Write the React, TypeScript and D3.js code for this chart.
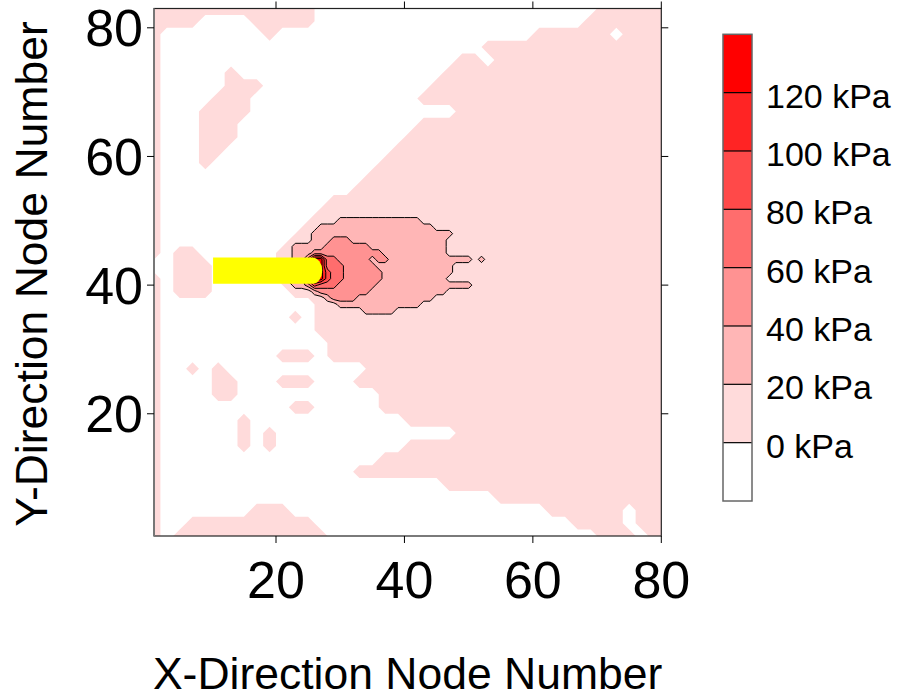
import React from 'react';
import * as d3 from 'd3';

const W = 902;
const H = 697;
const X_DOMAIN = [1, 80];
const Y_DOMAIN = [1, 83];
const X_TICKS = [20, 40, 60, 80];
const Y_TICKS = [20, 40, 60, 80];
const LEVELS = [0, 20, 40, 60, 80, 100, 120];
const LEVEL_COLORS = ['#ffffff', '#ffdbdb', '#ffb6b6', '#ff9292', '#ff6d6d', '#ff4949', '#ff2424', '#ff0000'];
const LEVEL_LABELS = LEVELS.map((v) => `${v} kPa`);
const X_TITLE = 'X-Direction Node Number';
const Y_TITLE = 'Y-Direction Node Number';

// level codes: '.' below 0, '1' 0-20, '2' 20-40, '3' 40-60, '4' 60-80, '5' 80-100, '6' 100-120, '7' above 120 (kPa)
const CODE_VALUES: Record<string, number> = { '.': -10, '1': 10, '2': 30, '3': 50, '4': 70, '5': 90, '6': 110, '7': 130 };

// whole field, nodes x = 1,3,...,81 ; rows y = 83,81,...,1
const FIELD_X0 = 1;
const FIELD_Y_TOP = 83;
const FIELD_STEP = 2;
const FIELD_ROWS = [
  '11111 11111 111.. ..... ..... ..... ..... 11111 1',
  '1111. ...11 111.. ..... ..... ..... ....1 11111 1',
  '1.... ....1 ..... ..... ..... ..... 11111 1.111 1',
  '1.... ..... ..... ..... ..... .1111 11111 11111 1',
  '1.... ..... ..... ..... ....1 1.111 11111 11111 1',
  '1.... .1... ..... ..... ...11 11111 11111 11111 1',
  '1.... .111. ..... ..... ..111 11111 11111 11111 1',
  '1.... 111.. ..... ..... .1111 11111 11111 11111 1',
  '1...1 111.. ..... ..... ....1 11111 11111 11111 1',
  '1...1 11... ..... ..... .1111 11111 11111 11111 1',
  '1...1 11... ..... ..... 11111 11111 11111 11111 1',
  '1...1 1.... ..... ....1 11111 11111 11111 11111 1',
  '1...1 ..... ..... ...11 11111 11111 11111 11111 1',
  '1.... ..... ..... ..111 11111 11111 11111 11111 1',
  '1.... ..... ..... .1111 11111 11111 11111 11111 1',
  '1.... ..... ....1 11111 11111 11111 11111 11111 1',
  '1.... ..... ...11 11111 11111 11111 11111 11111 1',
  '1.... ..... ..111 11111 11111 11111 11111 11111 1',
  '1.... ..... .1111 11111 11111 11111 11111 11111 1',
  '1.11. ..... 11111 11111 11111 11111 11111 11111 1',
  '..111 ..... 11111 11111 11111 11111 11111 11111 1',
  '1.111 ..... 11111 11111 11111 11111 11111 11111 1',
  '1.111 ..... .1111 11111 11111 11111 11111 11111 1',
  '1.... ..... ...11 11111 11111 11111 11111 11111 1',
  '1.... ..... .1.11 11111 11111 11111 11111 11111 1',
  '1.... ..... ...11 11111 11111 11111 11111 11111 1',
  '1.... ..... ....1 11111 11111 11111 11111 11111 1',
  '1.... ..... 111.1 11111 11111 11111 11111 11111 1',
  '1..1. 1.... ..... ..111 11111 11111 11111 11111 1',
  '1.... 11... 111.. .1111 11111 11111 11111 11111 1',
  '1.... 11... ..... ...11 11111 11111 11111 11111 1',
  '1.... ..... .11.. ...11 11111 11111 11111 11111 1',
  '1.... ..1.. ..... ..... 11111 11111 11111 11111 1',
  '1.... ..1.1 ..... ..... ....1 11111 11111 11111 1',
  '1.... ..1.1 ..... ..... 11111 11111 11111 11111 1',
  '1.... ..... ..... ...11 11111 11111 11111 11111 1',
  '1.... ..... ..... .1111 11111 11111 11111 11111 1',
  '1.... ..... ..... ..... ...11 11111 11111 11111 1',
  '1.... ..... ..... ..... ..... ..111 11111 11111 1',
  '1.... ...11 1.... ..... ..... ..... .1111 11.11 1',
  '1..11 11111 111.. ..... ..... ..... ...11 11.11 1',
  '1.111 11111 1111. ..... ..... ..... ..... 111.1 1',
];

// core around the bar tip, nodes x = 20..54 ; rows y = 52..34
const CORE_X0 = 20;
const CORE_Y_TOP = 52;
const CORE_STEP = 1;
const CORE_ROWS = [
  '11111 11111 11111 11111 11111 11111 11111',
  '11111 11111 11111 11111 11111 11111 11111',
  '11111 11111 22222 22222 22211 11111 11111',
  '11111 11222 22222 22222 22222 11111 11111',
  '11111 12222 22222 22222 22222 22211 11111',
  '11111 12223 33222 22222 22222 22111 11111',
  '11122 22233 33333 22222 22222 22111 11111',
  '11122 23333 33333 33222 22222 22111 11111',
  '11122 47744 33333 23322 22222 22222 21211',
  '22222 57744 43333 32222 22222 22211 11111',
  '22222 57754 43333 33222 22222 22211 11111',
  '22222 57754 43333 33222 22222 22111 11111',
  '11122 35444 33333 32222 22222 22222 21111',
  '11111 12333 33333 22222 22222 22111 11111',
  '11111 11123 33322 22222 22222 11111 11111',
  '11111 11111 22222 22222 22211 11111 11111',
  '11111 11111 11112 22221 11111 11111 11111',
  '11111 11111 11111 11111 11111 11111 11111',
  '11111 11111 11111 11111 11111 11111 11111',
];

const BAR_X = [10.2, 27.2];
const BAR_Y = [40.2, 44.3];

const PLOT = { left: 154, right: 661.3, top: 8.5, bottom: 536 };

const xScale = d3.scaleLinear().domain(X_DOMAIN).range([PLOT.left, PLOT.right]);
const yScale = d3.scaleLinear().domain(Y_DOMAIN).range([PLOT.bottom, PLOT.top]);

function buildContours(rows: string[], thresholds: number[], x0: number, yTop: number, step: number) {
  const clean = rows.map((r) => r.replace(/ /g, ''));
  const n = clean[0].length;
  const m = clean.length;
  const values: number[] = [];
  clean.forEach((r) => {
    for (const c of r) values.push(CODE_VALUES[c]);
  });
  const contours = d3.contours().size([n, m]).thresholds(thresholds)(values);
  const path = d3.geoPath(
    d3.geoTransform({
      point: function (gx: number, gy: number) {
        const dx = x0 + (gx - 0.5) * step;
        const dy = yTop - (gy - 0.5) * step;
        (this as any).stream.point(xScale(dx), yScale(dy));
      },
    })
  );
  return contours.map((c) => ({ value: c.value, d: path(c as any) || '' }));
}

const levelColor = d3.scaleThreshold<number, string>().domain(LEVELS).range(LEVEL_COLORS);

const FONT = "'Liberation Sans', Arial, sans-serif";

export default function App() {
  const field = buildContours(FIELD_ROWS, [0], FIELD_X0, FIELD_Y_TOP, FIELD_STEP);
  const core = buildContours(CORE_ROWS, LEVELS.slice(1), CORE_X0, CORE_Y_TOP, CORE_STEP);

  const bx0 = xScale(BAR_X[0]);
  const bx1 = xScale(BAR_X[1]);
  const byT = yScale(BAR_Y[1]);
  const byB = yScale(BAR_Y[0]);
  const ry = (byB - byT) / 2;
  const rx = 10;
  const barPath = `M${bx0},${byT} L${bx1 - rx},${byT} A${rx},${ry} 0 0 1 ${bx1},${byT + ry} A${rx},${ry} 0 0 1 ${bx1 - rx},${byB} L${bx0},${byB} Z`;

  const legScale = d3.scaleLinear().domain([-20, 140]).range([501, 34.3]);
  const legBands = [-20, ...LEVELS];
  const legX = 723;
  const legW = 29;

  return (
    <svg width={W} height={H} style={{ position: 'absolute', left: 0, top: 0, background: '#fff' }}>
      <defs>
        <clipPath id="plotClip">
          <rect x={PLOT.left} y={PLOT.top} width={PLOT.right - PLOT.left} height={PLOT.bottom - PLOT.top} />
        </clipPath>
      </defs>
      <g clipPath="url(#plotClip)">
        <rect x={PLOT.left} y={PLOT.top} width={PLOT.right - PLOT.left} height={PLOT.bottom - PLOT.top} fill="#fff" />
        {field.map((c, i) => (
          <path key={'f' + i} d={c.d} fill={levelColor(c.value)} stroke="none" />
        ))}
        {core.map((c, i) => (
          <path key={'c' + i} d={c.d} fill={levelColor(c.value)} stroke="#000" strokeWidth={1} strokeLinejoin="round" />
        ))}
        <path d={barPath} fill="#ffff00" />
      </g>
      <rect x={PLOT.left} y={PLOT.top} width={PLOT.right - PLOT.left} height={PLOT.bottom - PLOT.top} fill="none" stroke="#222" strokeWidth={1.2} />
      <line x1={PLOT.left} x2={PLOT.left} y1={PLOT.top} y2={PLOT.bottom} stroke="#777" strokeWidth={2} />
      {X_TICKS.map((t) => (
        <g key={'xt' + t}>
          <line x1={xScale(t)} x2={xScale(t)} y1={PLOT.bottom} y2={PLOT.bottom + 7} stroke="#000" />
          <line x1={xScale(t)} x2={xScale(t)} y1={PLOT.top} y2={PLOT.top - 7} stroke="#000" />
          <text x={xScale(t)} y={598} textAnchor="middle" fontFamily={FONT} fontSize={52} fill="#000">
            {t}
          </text>
        </g>
      ))}
      {Y_TICKS.map((t) => (
        <g key={'yt' + t}>
          <line x1={PLOT.left} x2={PLOT.left - 7} y1={yScale(t)} y2={yScale(t)} stroke="#000" />
          <line x1={PLOT.right} x2={PLOT.right + 7} y1={yScale(t)} y2={yScale(t)} stroke="#000" />
          <text x={143} y={yScale(t) + 18.5} textAnchor="end" fontFamily={FONT} fontSize={52} fill="#000">
            {t}
          </text>
        </g>
      ))}
      <text x={(PLOT.left + PLOT.right) / 2} y={689} textAnchor="middle" fontFamily={FONT} fontSize={44.5} fill="#000">
        {X_TITLE}
      </text>
      <text transform={`translate(47,274) rotate(-90)`} textAnchor="middle" fontFamily={FONT} fontSize={44.5} fill="#000">
        {Y_TITLE}
      </text>
      {legBands.map((lo, i) => (
        <rect key={'lb' + i} x={legX} y={legScale(lo + 20)} width={legW} height={legScale(lo) - legScale(lo + 20)} fill={LEVEL_COLORS[i]} stroke="none" />
      ))}
      {LEVELS.map((v) => (
        <line key={'ll' + v} x1={legX} x2={legX + legW} y1={legScale(v)} y2={legScale(v)} stroke="#000" strokeWidth={1.2} />
      ))}
      <rect x={legX} y={legScale(140)} width={legW} height={legScale(-20) - legScale(140)} fill="none" stroke="#666" strokeWidth={1.5} />
      {LEVELS.map((v, i) => (
        <text key={'lt' + v} x={766} y={legScale(v) + 15} fontFamily={FONT} fontSize={34} fill="#000">
          {LEVEL_LABELS[i]}
        </text>
      ))}
    </svg>
  );
}
